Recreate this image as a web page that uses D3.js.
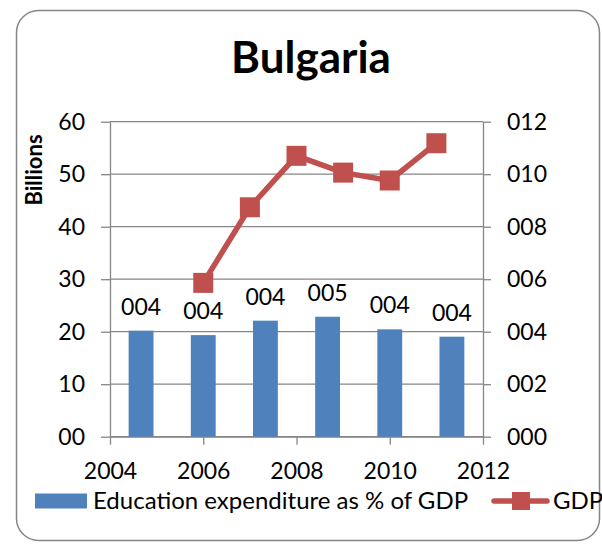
<!DOCTYPE html>
<html>
<head>
<meta charset="utf-8">
<script src="https://cdn.jsdelivr.net/npm/d3@7"></script>
<style>
  body { margin: 0; background: #fff; }
  text { font-family: Lato, "Open Sans", sans-serif; fill: #000; }
</style>
</head>
<body>
<div id="chart"></div>
<script>
// data
var years = [2006, 2007, 2008, 2009, 2010, 2011];
var eduPct = [4.04, 3.87, 4.42, 4.57, 4.09, 3.81];   // right axis, bars
var gdp = [29.3, 43.7, 53.5, 50.3, 48.8, 55.9];      // left axis, billions
var leftTicks = [0, 10, 20, 30, 40, 50, 60];
var rightTicks = [0, 2, 4, 6, 8, 10, 12];
var xTicks = [2004, 2006, 2008, 2010, 2012];

var W = 602, H = 544;
var plot = {left: 110, right: 483, top: 121.7, bottom: 436.7};
var gridColor = "#868686";
var blue = "#4F81BD", red = "#C0504D";

var svg = d3.select("#chart").append("svg")
    .attr("width", W)
    .attr("height", H);

// outer frame
svg.append("rect")
    .attr("x", 16.5).attr("y", 10.5)
    .attr("width", 583).attr("height", 530)
    .attr("rx", 22).attr("ry", 22)
    .attr("fill", "#fff")
    .attr("stroke", gridColor)
    .attr("stroke-width", 1.5);

// title
svg.append("text")
    .attr("x", 311).attr("y", 73)
    .attr("text-anchor", "middle")
    .attr("font-size", 44)
    .attr("font-weight", "bold")
    .text("Bulgaria");

// scales
var yLeft = d3.scaleLinear().domain([0, 60]).range([plot.bottom, plot.top]);
var yRight = d3.scaleLinear().domain([0, 12]).range([plot.bottom, plot.top]);
var x = d3.scaleLinear().domain([2004, 2012]).range([plot.left, plot.right]);
var xBand = d3.scaleBand().domain(years).range([plot.left, plot.right])
    .paddingInner(0.6).paddingOuter(0.3);

// gridlines
svg.append("g").selectAll("line")
    .data(leftTicks)
    .enter().append("line")
    .attr("x1", plot.left).attr("x2", plot.right)
    .attr("y1", d => yLeft(d)).attr("y2", d => yLeft(d))
    .attr("stroke", gridColor)
    .attr("stroke-width", 1.3);

// left axis
var leftAxis = svg.append("g")
    .attr("transform", "translate(" + plot.left + ",0)")
    .call(d3.axisLeft(yLeft).tickValues(leftTicks).tickFormat(d3.format("02d"))
        .tickSizeInner(9).tickSizeOuter(0).tickPadding(16));

// right axis
var rightAxis = svg.append("g")
    .attr("transform", "translate(" + plot.right + ",0)")
    .call(d3.axisRight(yRight).tickValues(rightTicks).tickFormat(d3.format("03d"))
        .tickSizeInner(8).tickSizeOuter(0).tickPadding(16));

// bottom axis
var bottomAxis = svg.append("g")
    .attr("transform", "translate(0," + plot.bottom + ")")
    .call(d3.axisBottom(x).tickValues(xTicks).tickFormat(d3.format("d"))
        .tickSizeInner(8).tickSizeOuter(0).tickPadding(18));

[leftAxis, rightAxis, bottomAxis].forEach(function(a) {
    a.select(".domain").attr("stroke", gridColor).attr("stroke-width", 1.3);
    a.selectAll(".tick line").attr("stroke", gridColor).attr("stroke-width", 1.3);
    a.selectAll(".tick text")
        .attr("font-size", 23)
        .attr("fill", "#000")
        .style("font-family", "Lato, sans-serif");
});

svg.append("text")
    .attr("transform", "translate(42,170) rotate(-90)")
    .attr("text-anchor", "middle")
    .attr("font-size", 22)
    .attr("font-weight", "bold")
    .text("Billions");

// bars (secondary category axis)
svg.append("g").selectAll("rect")
    .data(years)
    .enter().append("rect")
    .attr("x", d => xBand(d))
    .attr("width", xBand.bandwidth())
    .attr("y", (d, i) => yRight(eduPct[i]))
    .attr("height", (d, i) => plot.bottom - yRight(eduPct[i]))
    .attr("fill", blue);

svg.append("g").selectAll("text")
    .data(years)
    .enter().append("text")
    .attr("x", d => xBand(d) + xBand.bandwidth() / 2)
    .attr("y", (d, i) => yRight(eduPct[i]) - 16)
    .attr("text-anchor", "middle")
    .attr("font-size", 23)
    .text((d, i) => d3.format("03.0f")(eduPct[i]));

// GDP line
var makeLine = d3.line()
    .x((d, i) => x(years[i]))
    .y(d => yLeft(d));

svg.append("path")
    .datum(gdp)
    .attr("d", makeLine)
    .attr("fill", "none")
    .attr("stroke", red)
    .attr("stroke-width", 5.5);

svg.append("g").selectAll("rect")
    .data(gdp)
    .enter().append("rect")
    .attr("x", (d, i) => x(years[i]) - 10)
    .attr("y", d => yLeft(d) - 10)
    .attr("width", 20).attr("height", 20)
    .attr("fill", red);

// legend
var legend = svg.append("g");
legend.append("rect")
    .attr("x", 35).attr("y", 493.5)
    .attr("width", 52).attr("height", 15)
    .attr("fill", blue);
legend.append("text")
    .attr("x", 93).attr("y", 509)
    .attr("font-size", 24)
    .text("Education expenditure as % of GDP");
legend.append("line")
    .attr("x1", 494).attr("x2", 547)
    .attr("y1", 501).attr("y2", 501)
    .attr("stroke", red)
    .attr("stroke-width", 5.5)
    .attr("stroke-linecap", "round");
legend.append("rect")
    .attr("x", 512).attr("y", 492)
    .attr("width", 18).attr("height", 18)
    .attr("fill", red);
legend.append("text")
    .attr("x", 553).attr("y", 509)
    .attr("font-size", 24)
    .text("GDP");
</script>
</body>
</html>
